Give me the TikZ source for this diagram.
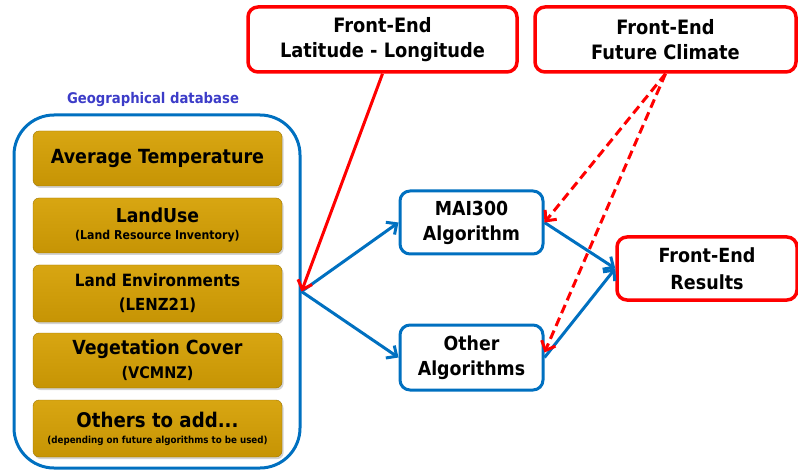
\documentclass[tikz,border=0pt]{standalone}
\usepackage{fontspec}
\setmainfont{DejaVu Sans Condensed}
\usetikzlibrary{arrows.meta,shadows,calc}
\definecolor{dbblue}{RGB}{0,112,192}
\definecolor{titleblue}{RGB}{60,60,200}
\definecolor{fered}{RGB}{255,0,0}
\definecolor{goldtop}{RGB}{216,166,18}
\definecolor{goldbot}{RGB}{198,148,4}
\newcommand{\fs}[2]{\fontsize{#1}{#2}\selectfont}
\tikzset{
  dbframe/.style={draw=dbblue, line width=3pt, rounded corners=40pt},
  layer/.style={rounded corners=6pt, top color=goldtop, bottom color=goldbot,
    draw=goldbot!80!black, line width=0.4pt,
    drop shadow={shadow xshift=1.5pt, shadow yshift=-2pt, opacity=0.35},
    minimum width=249pt, inner sep=0pt, align=center},
  frontend/.style={draw=fered, line width=3.5pt, rounded corners=10pt, fill=white,
    inner sep=0pt, align=center},
  algo/.style={draw=dbblue, line width=3pt, rounded corners=10pt, fill=white,
    inner sep=0pt, align=center},
  flow/.style={draw=dbblue, line width=3pt, -{Straight Barb[length=8pt,width=15pt]}},
  feed/.style={draw=fered, line width=3pt, -{Straight Barb[length=8pt,width=15pt]}},
  feeddash/.style={feed, dash pattern=on 9pt off 5pt},
}
\begin{document}
\begin{tikzpicture}[x=1pt,y=-1pt]
\useasboundingbox (0,0) rectangle (798,473);

% geographical database
\node[dbframe, minimum width=286pt, minimum height=353pt] (db) at (157,291.5) {};
\node[text=titleblue, font=\bfseries\fs{14.7}{17}] (dbtitle) at (153,100) {Geographical database};

\node[layer, minimum height=55pt, font=\bfseries\fs{19.5}{23}] (avgt) at (157.5,158.5)
  {Average Temperature};
\node[layer, minimum height=55pt, font=\bfseries\fs{10}{17}] (luse) at (157.5,225.5)
  {\fs{19.2}{23}LandUse\\\fs{12.2}{14}(Land Resource Inventory)};
\node[layer, minimum height=57pt, font=\bfseries\fs{10}{24}] (lenz) at (157.5,293.5)
  {\fs{16.9}{20}Land Environments\\\fs{16.6}{20}(LENZ21)};
\node[layer, minimum height=55pt, font=\bfseries\fs{10}{24}] (veg) at (157.5,360.5)
  {\fs{19.4}{23}Vegetation Cover\\\fs{16}{18}(VCMNZ)};
\node[layer, minimum height=57pt, font=\bfseries\fs{10}{16}] (oth) at (157.5,428.5)
  {\fs{20.2}{24}Others to add...\\\fs{9.7}{11}(depending on future algorithms to be used)};

% front-end boxes
\node[frontend, minimum width=269pt, minimum height=65pt, font=\bfseries\fs{19.8}{25}] (ll) at (382.5,39.5)
  {Front-End\\Latitude - Longitude};
\node[frontend, minimum width=261pt, minimum height=65pt, font=\bfseries\fs{19.8}{25}] (fc) at (665.5,39.5)
  {Front-End\\Future Climate};
\node[frontend, minimum width=180pt, minimum height=63pt, font=\bfseries\fs{19.5}{26.5}] (res) at (707,268.5)
  {Front-End\\Results};

% algorithms
\node[algo, minimum width=143pt, minimum height=63pt, font=\bfseries\fs{19.3}{25}] (mai) at (471.5,222.5)
  {MAI300\\Algorithm};
\node[algo, minimum width=143pt, minimum height=65pt, font=\bfseries\fs{19.3}{25}] (alg) at (471.5,357.5)
  {Other\\Algorithms};

\coordinate (br) at (db.east);

% connectors
\draw[flow] (br) -- (mai.west);
\draw[flow] (br) -- (alg.west);
\draw[flow] (mai.east) -- (res.west);
\draw[flow] (alg.east) -- (res.west);
\draw[feed] (ll.south) -- (br);
\draw[feeddash] (fc.south) -- (mai.east);
\draw[feeddash] (fc.south) -- ([yshift=5pt]alg.east);
\end{tikzpicture}
\end{document}
